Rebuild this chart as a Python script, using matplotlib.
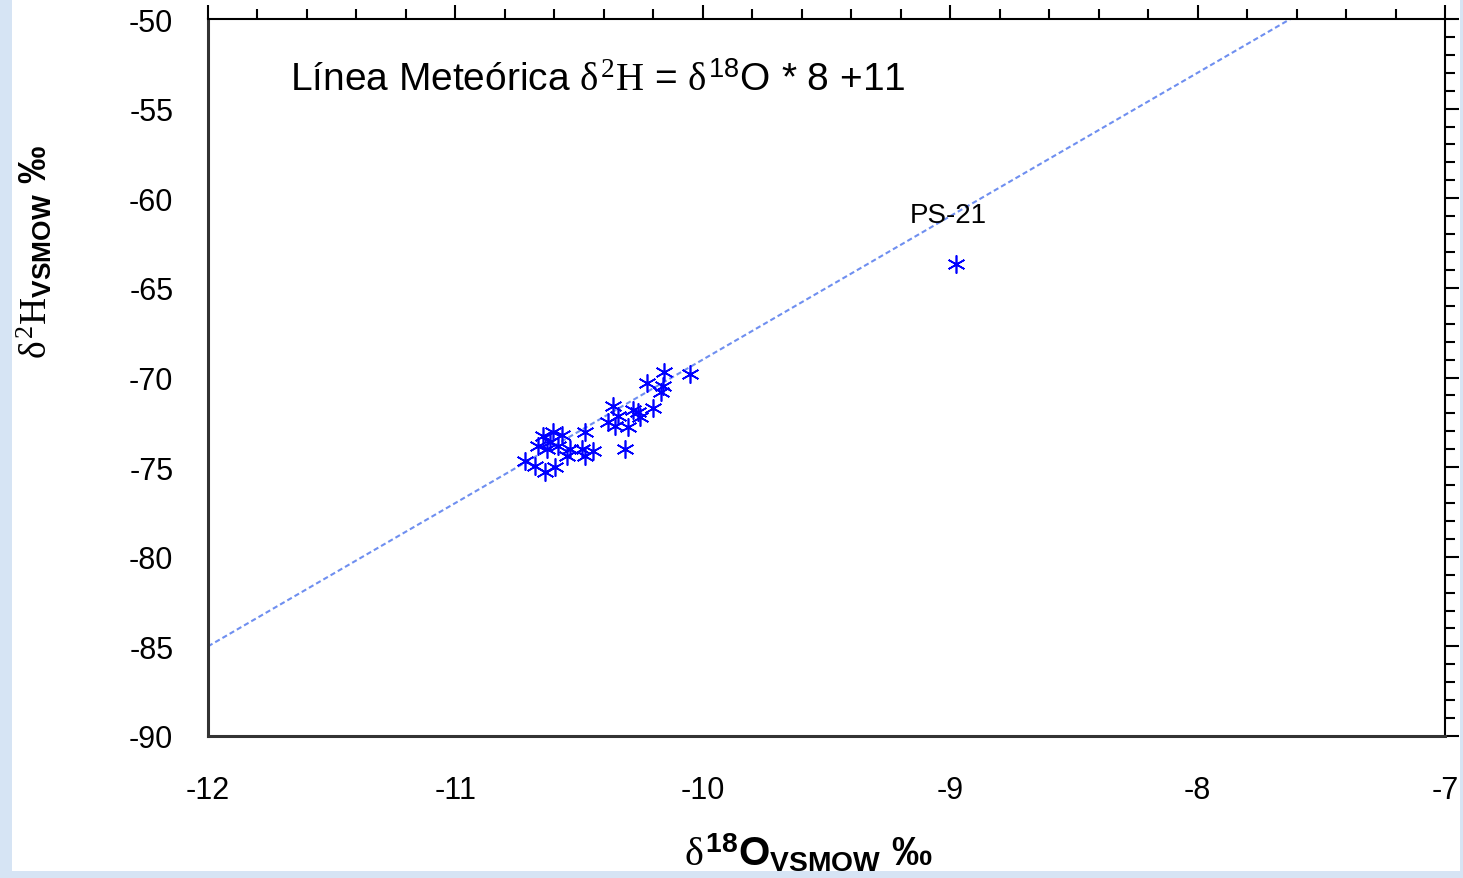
import numpy as np
import matplotlib
matplotlib.use('Agg')
import matplotlib.pyplot as plt
from matplotlib.ticker import MultipleLocator
from matplotlib.patches import Rectangle

plt.rcParams['font.family'] = ['Liberation Sans', 'DejaVu Sans']
plt.rcParams['axes.unicode_minus'] = False
plt.rcParams['mathtext.fontset'] = 'custom'
plt.rcParams['mathtext.rm'] = 'Liberation Sans'
plt.rcParams['mathtext.it'] = 'Liberation Serif'
plt.rcParams['mathtext.sf'] = 'Liberation Serif'
plt.rcParams['mathtext.bf'] = 'Liberation Sans:bold'

# muestras (delta 18O, delta 2H)
d18O = [-10.157, -10.052, -10.226, -10.161, -10.169, -10.363, -10.282, -10.262,
        -10.201, -10.343, -10.383, -10.254, -10.355, -10.302, -10.314, -10.476,
        -10.606, -10.646, -10.569, -10.666, -10.618, -10.537, -10.488, -10.444,
        -10.549, -10.719, -10.678, -10.638, -10.597, -10.476, -10.585, -10.630]
d2H = [-69.69, -69.81, -70.31, -70.47, -70.81, -71.59, -71.81, -71.92,
       -71.70, -72.15, -72.48, -72.20, -72.71, -72.76, -73.99, -73.04,
       -73.04, -73.26, -73.21, -73.82, -73.60, -73.99, -73.99, -74.10,
       -74.38, -74.66, -74.94, -75.27, -74.99, -74.38, -73.82, -73.99]
ps21 = (-8.977, -63.67)

# linea meteorica local
pend = 8
inter = 11
xl = np.array([-12, -7])
yl = pend * xl + inter

fig = plt.figure(figsize=(14.63, 8.79), dpi=100)
fig.patch.set_facecolor('#d6e4f4')
fig.patches.append(Rectangle((12/1463, 7/879), 1448/1463, 872/879,
                             transform=fig.transFigure, facecolor='white',
                             edgecolor='none', zorder=-5))
ax = fig.add_axes([208/1463, 1 - 737/879, 1237/1463, 717/879])

ax.plot(xl, yl, color='#6f8ff0', lw=1.5, dashes=(2.5, 1.5))
ax.plot(d18O, d2H, ls='none', marker=(6, 2, 0), ms=13, mew=1.2, color='#0000ff')
ax.plot(ps21[0], ps21[1], ls='none', marker=(6, 2, 0), ms=13, mew=1.2, color='#0000ff')
ax.text(ps21[0] - 0.03, -60.95, 'PS-21', fontsize=20, ha='center', va='center')

ax.text(0.066, 0.915, r'Línea Meteórica $\delta^{\mathsf{2}}\mathsf{H}$ = $\delta^{18}$O * 8 +11',
        transform=ax.transAxes, fontsize=28, ha='left', va='center')

ax.set_xlim(-12, -7)
ax.set_ylim(-90, -50)
ax.xaxis.set_major_locator(MultipleLocator(1))
ax.xaxis.set_minor_locator(MultipleLocator(0.2))
ax.yaxis.set_major_locator(MultipleLocator(5))
ax.yaxis.set_minor_locator(MultipleLocator(1))
ax.tick_params(axis='x', which='both', bottom=False, top=True, labelbottom=True,
               direction='out', labelsize=22, pad=18)
ax.tick_params(axis='y', which='both', left=False, right=True, labelleft=True,
               direction='out', labelsize=22, pad=15)
ax.tick_params(which='major', length=10, width=1.5)
ax.tick_params(which='minor', length=7, width=1.5)

for s in ['top', 'right']:
    ax.spines[s].set_linewidth(1.5)
for s in ['left', 'bottom']:
    ax.spines[s].set_linewidth(2.2)
    ax.spines[s].set_color('#333333')

fig.text(808/1463, 1 - 853/879, r'$\delta^{\mathbf{18}}\mathbf{O}_{\mathbf{VSMOW}}$ ‰',
         fontsize=29, fontweight='bold', ha='center', va='center')
fig.text(35/1463, 1 - 252/879, r'$\delta^{\mathsf{2}}\mathsf{H}_{\mathbf{VSMOW}}$ ‰',
         fontsize=27, fontweight='bold', ha='center', va='center', rotation=90)

fig.savefig('out.png', dpi=100, facecolor=fig.get_facecolor())
